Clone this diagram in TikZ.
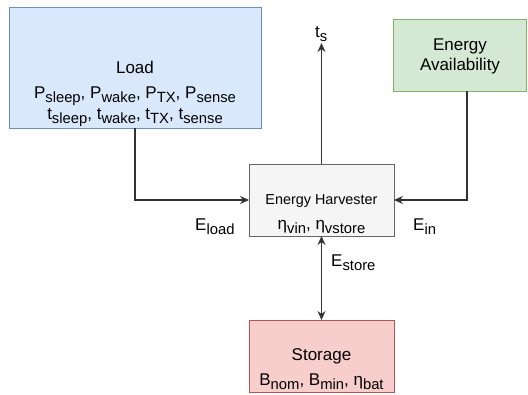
\documentclass[tikz,border=0pt]{standalone}
\usepackage{fontspec}
\setmainfont{Liberation Sans}
\usepackage{graphicx}
\usetikzlibrary{arrows.meta}
\newcommand\sbx[1]{\raisebox{-0.28em}{\scalebox{0.87}{#1}}}
\definecolor{bluef}{HTML}{DAE8FC}\definecolor{blued}{HTML}{6C8EBF}
\definecolor{greenf}{HTML}{D5E8D4}\definecolor{greend}{HTML}{82B366}
\definecolor{redf}{HTML}{F8CECC}\definecolor{redd}{HTML}{B85450}
\definecolor{grayf}{HTML}{F5F5F5}\definecolor{grayd}{HTML}{666666}
\definecolor{edge}{HTML}{333333}
\tikzset{
  box/.style={draw, line width=0.9pt, inner sep=0pt, outer sep=0pt},
  lbl/.style={anchor=base, inner sep=0pt, font=\fontsize{17}{20}\selectfont},
  slbl/.style={anchor=base, inner sep=0pt, font=\fontsize{14.4}{16}\selectfont},
  conn/.style={draw=edge, line width=1.1pt, >={Stealth[length=9pt,width=8pt,inset=3pt]}, ->},
}
\begin{document}
\begin{tikzpicture}[x=1pt,y=-1pt]
\useasboundingbox (0,0) rectangle (528,394);
% boxes
\node[box, fill=bluef, draw=blued, minimum width=252pt, minimum height=121pt] (load) at (135.5,67.5) {};
\node[box, fill=greenf, draw=greend, minimum width=133pt, minimum height=72pt] (avail) at (460,55) {};
\node[box, fill=grayf, draw=grayd, minimum width=145pt, minimum height=72pt] (harv) at (321.5,200) {};
\node[box, fill=redf, draw=redd, minimum width=145pt, minimum height=72pt] (stor) at (321.5,356) {};
% texts
\node[lbl] (tload) at (135,73) {Load};
\node[lbl] (tloadp) at (135,98) {P\sbx{sleep}, P\sbx{wake}, P\sbx{TX}, P\sbx{sense}};
\node[lbl] (tloadt) at (135,119) {t\sbx{sleep}, t\sbx{wake}, t\sbx{TX}, t\sbx{sense}};
\node[lbl] (tav1) at (460,50) {Energy};
\node[lbl] (tav2) at (460,70) {Availability};
\node[slbl] (th1) at (321.5,204) {Energy Harvester};
\node[slbl, font=\fontsize{17}{18}\selectfont] (th2) at (321.5,229) {η\sbx{vin}, η\sbx{vstore}};
\node[lbl] (ts1) at (321.5,360) {Storage};
\node[lbl] (ts2) at (321.5,385) {B\sbx{nom}, B\sbx{min}, η\sbx{bat}};
% connectors
\coordinate (top) at (321.5,43);
\draw[conn] (load.south -| 135,0) |- (harv.west);
\draw[conn] (avail.south -| 467,0) |- (harv.east);
\draw[conn] (harv.north) -- (top);
\draw[conn, <->] (harv.south) -- (stor.north);
% edge labels
\node[lbl, anchor=base west] (ets) at (315,37) {t\sbx{s}};
\node[lbl, anchor=base west] (eload) at (195,230) {E\sbx{load}};
\node[lbl, anchor=base west] (ein) at (413,230) {E\sbx{in}};
\node[lbl, anchor=base west] (estore) at (331,266) {E\sbx{store}};
\end{tikzpicture}
\end{document}
